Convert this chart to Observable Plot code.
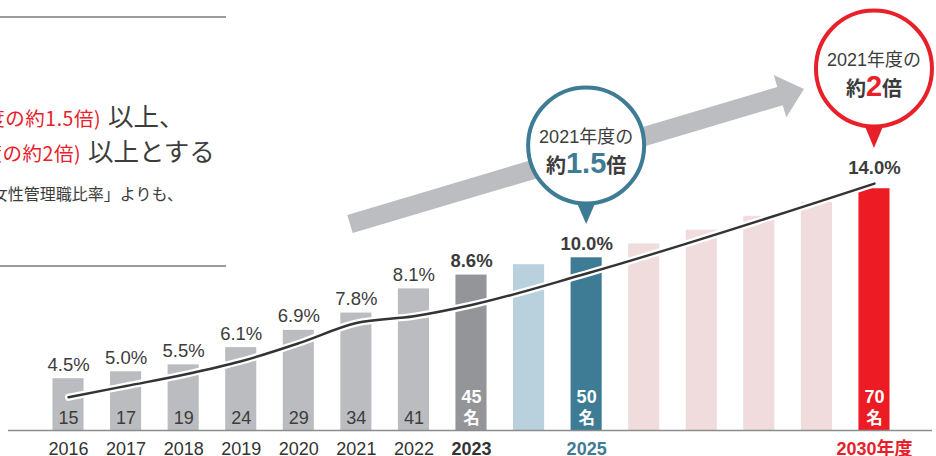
<!DOCTYPE html>
<html>
<head>
<meta charset="utf-8">
<script src="https://cdn.jsdelivr.net/npm/d3@7"></script>
<script src="https://cdn.jsdelivr.net/npm/@observablehq/plot@0.6"></script>
<style>
  html, body { margin: 0; padding: 0; background: #fff; }
  svg { display: block; }
</style>
</head>
<body>
<div id="chart"></div>
<script>
// ---- data ----
const years = ["2016","2017","2018","2019","2020","2021","2022","2023","2024","2025","2026","2027","2028","2029","2030"];
const counts = [15, 17, 19, 24, 29, 34, 41, 45, 48, 50, 54, 58, 62, 66, 70];
const ratios = [4.5, 5.0, 5.5, 6.1, 6.9, 7.8, 8.1, 8.6, null, 10.0, null, null, null, null, 14.0];
const ratioLabels = ["4.5%","5.0%","5.5%","6.1%","6.9%","7.8%","8.1%","8.6%","","10.0%","","","","","14.0%"];
const countLabels = ["15","17","19","24","29","34","41","45","","50","","","","","70"];
const tickLabels = ["2016","2017","2018","2019","2020","2021","2022","2023","","2025","","","","","2030年度"];
const phases = ["実績","実績","実績","実績","実績","実績","実績","最新","経過1","目標1","経過2","経過2","経過2","経過2","目標2"];
const phaseOrder = ["実績","最新","経過1","目標1","経過2","目標2"];
const phaseColors = ["#bbbcbf","#939598","#b9d1dd","#3e7b95","#f0dcdc","#ed1c24"];
const unitLabel = "名";
const bubble1 = {year: "2025", line1: "2021年度の", pre: "約", num: "1.5", post: "倍"};
const bubble2 = {year: "2030", line1: "2021年度の", pre: "約", num: "2", post: "倍"};
const headLines = [
  {red: "度の約1.5倍)", dark: "以上、"},
  {red: "度の約2倍)", dark: "以上とする"}
];
const noteLine = "女性管理職比率」よりも、";

const data = years.map((year, i) => ({
  year, count: counts[i], ratio: ratios[i], ratioLabel: ratioLabels[i],
  countLabel: countLabels[i], tick: tickLabels[i], phase: phases[i]
}));
const lineData = data.filter(d => d.ratio != null);
const actual = data.filter(d => d.phase === "実績");
const highlight = data.filter(d => ["最新","目標1","目標2"].includes(d.phase));
const ratioToCount = d3.scaleLinear().domain([3.02, 14]).range([0, 71.5]);

const FONT = "'Liberation Sans', Arimo, 'Noto Sans CJK JP', sans-serif";
const JP = "'Noto Sans CJK JP', 'Liberation Sans', sans-serif";
const DARK = "#3c3c3c";
const TEAL = "#3e7b95";
const RED = "#e8202a";

const chart = Plot.plot({
  width: 936,
  height: 456,
  marginLeft: 8,
  marginRight: 4,
  marginTop: 0,
  marginBottom: 0,
  style: {fontFamily: FONT, background: "#fff", overflow: "visible"},
  x: {type: "band", domain: years, range: [26, 916], padding: 0.46, round: false, axis: null},
  y: {domain: [0, 124.5], range: [430, 0], axis: null},
  color: {domain: phaseOrder, range: phaseColors},
  marks: [
    Plot.barY(data, {x: "year", y: "count", fill: "phase"}),
    Plot.line(lineData, {x: "year", y: d => ratioToCount(d.ratio), stroke: "#fff", strokeWidth: 7, strokeLinecap: "round", strokeLinejoin: "round", curve: "monotone-x"}),
    Plot.line(lineData, {x: "year", y: d => ratioToCount(d.ratio), stroke: "#333", strokeWidth: 2.4, strokeLinecap: "round", strokeLinejoin: "round", curve: "monotone-x"}),
    Plot.ruleY([0], {stroke: "#8c8c8c", strokeWidth: 1.6}),
    // ratio labels
    Plot.text(actual, {x: "year", y: "count", text: "ratioLabel", dy: -8, lineAnchor: "bottom", fontSize: 18.5, fill: DARK}),
    Plot.text(data.filter(d => d.phase === "最新" || d.phase === "目標1"), {x: "year", y: "count", text: "ratioLabel", dy: -8, lineAnchor: "bottom", fontSize: 18.5, fontWeight: "bold", fill: DARK}),
    Plot.text(data.filter(d => d.phase === "目標2"), {x: "year", y: "count", text: "ratioLabel", dy: -15, lineAnchor: "bottom", fontSize: 18.5, fontWeight: "bold", fill: DARK}),
    // count labels inside bars
    Plot.text(actual, {x: "year", y: 0, text: "countLabel", dy: -7, lineAnchor: "bottom", fontSize: 18, fill: DARK}),
    Plot.text(highlight, {x: "year", y: 0, text: "countLabel", dy: -28, lineAnchor: "bottom", fontSize: 18, fontWeight: "bold", fill: "#fff"}),
    Plot.text(highlight, {x: "year", y: 0, text: () => unitLabel, dy: -7, lineAnchor: "bottom", fontSize: 16.5, fontWeight: "bold", fill: "#fff", fontFamily: JP}),
    // x tick labels
    Plot.text(actual, {x: "year", y: 0, text: "tick", dy: 24, lineAnchor: "bottom", fontSize: 18, fill: "#333"}),
    Plot.text(data.filter(d => d.phase === "最新"), {x: "year", y: 0, text: "tick", dy: 24, lineAnchor: "bottom", fontSize: 18, fontWeight: "bold", fill: "#333"}),
    Plot.text(data.filter(d => d.phase === "目標1"), {x: "year", y: 0, text: "tick", dy: 24, lineAnchor: "bottom", fontSize: 18, fontWeight: "bold", fill: TEAL}),
    Plot.text(data.filter(d => d.phase === "目標2"), {x: "year", y: 0, text: "tick", dy: 24, lineAnchor: "bottom", fontSize: 18, fontWeight: "bold", fill: RED})
  ]
});

document.getElementById("chart").appendChild(chart);

// ---- decorations (arrow, callout bubbles, clipped heading text) ----
const svgSel = d3.select(chart);
const xs = chart.scale("x");
const bandCenter = yr => xs.apply(yr) + xs.bandwidth / 2;

const decoG = svgSel.insert("g", ":first-child").attr("class", "deco");

// big gray arrow
{
  const S = [350, 224], T = [804, 89];
  const ddx = T[0] - S[0], ddy = T[1] - S[1], L = Math.hypot(ddx, ddy);
  const u = [ddx / L, ddy / L], n = [-u[1], u[0]];
  const hw = 9.5, headW = 22, headL = 25;
  const B = [T[0] - headL * u[0], T[1] - headL * u[1]];
  const p = (P, k) => [P[0] + k * n[0], P[1] + k * n[1]];
  const pts = [p(S, -hw), p(B, -hw), p(B, -headW), T, p(B, headW), p(B, hw), p(S, hw)];
  decoG.append("polygon").attr("points", pts.map(q => q.join(",")).join(" ")).attr("fill", "#bcbdc0");
}

function drawBubble(g, b, color, cy, r, tipY) {
  const x0 = bandCenter(b.year);
  g.append("polygon")
    .attr("points", `${x0 - 11.5},${cy + r - 6} ${x0 + 11.5},${cy + r - 6} ${x0},${tipY}`)
    .attr("fill", color);
  g.append("circle").attr("cx", x0).attr("cy", cy).attr("r", r)
    .attr("fill", "#fff").attr("stroke", color).attr("stroke-width", 4);
  g.append("text").attr("x", x0).attr("y", cy - 3).attr("text-anchor", "middle")
    .attr("font-family", FONT).attr("font-size", 18).attr("fill", DARK).text(b.line1);
  const t = g.append("text").attr("x", x0).attr("y", cy + 27).attr("text-anchor", "middle")
    .attr("font-family", FONT).attr("font-weight", "bold").attr("fill", DARK);
  t.append("tspan").attr("font-size", 20).attr("font-family", JP).text(b.pre);
  t.append("tspan").attr("font-size", 29).attr("fill", color).text(b.num);
  t.append("tspan").attr("font-size", 20).attr("font-family", JP).text(b.post);
}
const bubbleG = svgSel.append("g").attr("class", "bubbles");
drawBubble(bubbleG, bubble1, TEAL, 145.5, 58, 224);
drawBubble(bubbleG, bubble2, RED, 68.5, 58, 148);

// heading text block (cropped at the left edge)
const headG = svgSel.append("g").attr("class", "heading");
headG.append("line").attr("x1", 0).attr("x2", 226).attr("y1", 17).attr("y2", 17).attr("stroke", "#7a7a7a").attr("stroke-width", 1.5);
headG.append("line").attr("x1", 0).attr("x2", 226).attr("y1", 266).attr("y2", 266).attr("stroke", "#7a7a7a").attr("stroke-width", 1.5);
const headBaselines = [126, 161];
const headSplitX = [101, 81];
headLines.forEach((l, i) => {
  headG.append("text").attr("x", headSplitX[i]).attr("y", headBaselines[i]).attr("text-anchor", "end")
    .attr("font-family", JP).attr("font-size", 19.5).attr("letter-spacing", 0.5).attr("fill", RED).text(l.red);
  headG.append("text").attr("x", headSplitX[i] + 7).attr("y", headBaselines[i]).attr("text-anchor", "start")
    .attr("font-family", JP).attr("font-size", 25.5).attr("fill", DARK).text(l.dark);
});
headG.append("text").attr("x", 183).attr("y", 200).attr("text-anchor", "end")
  .attr("font-family", JP).attr("font-size", 16).attr("fill", DARK).text(noteLine);
</script>
</body>
</html>
